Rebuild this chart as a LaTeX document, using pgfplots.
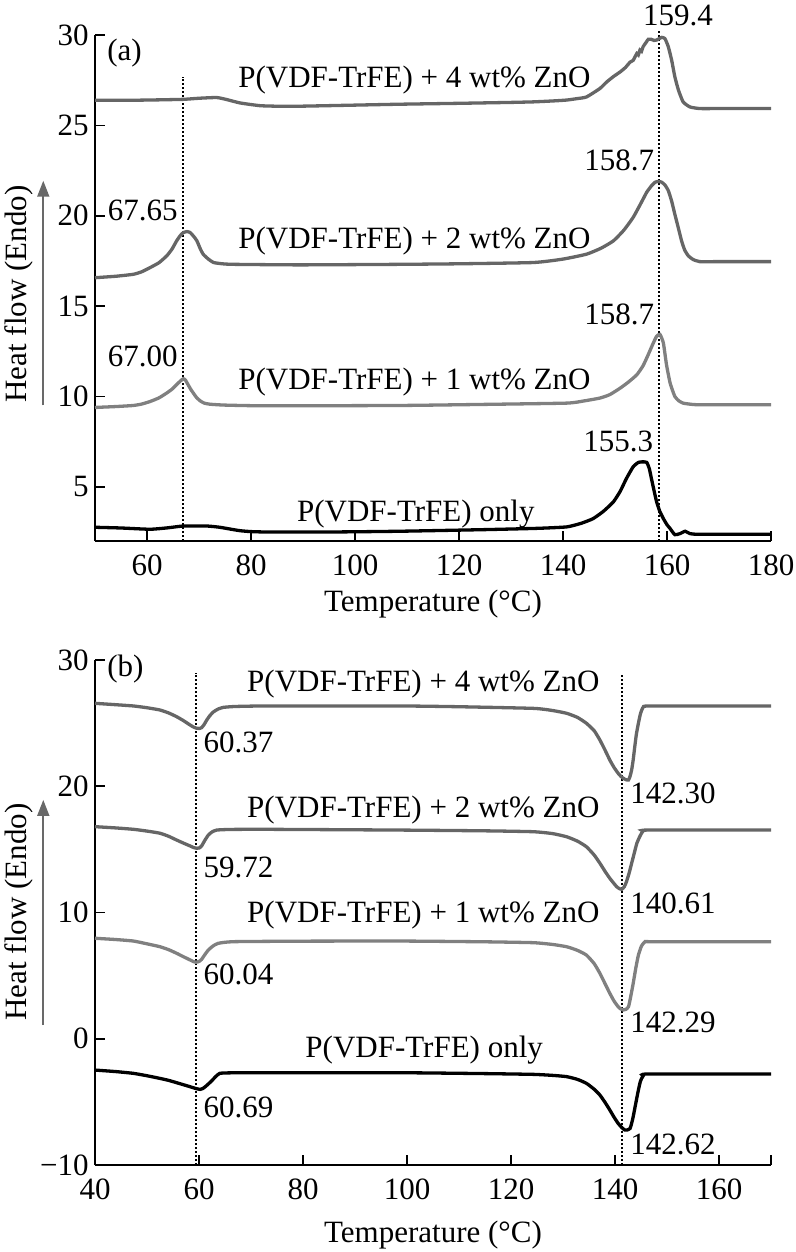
\documentclass[border=0pt]{standalone}
\usepackage{fontspec}
\setmainfont{LiberationSerif}[Extension=.ttf, UprightFont=*-Regular, BoldFont=*-Bold, ItalicFont=*-Italic, BoldItalicFont=*-BoldItalic]
\usepackage{pgfplots}
\pgfplotsset{compat=1.18}
\usetikzlibrary{arrows.meta}
\definecolor{dgray}{RGB}{102,102,102}
\definecolor{lgray}{RGB}{128,128,128}
\definecolor{agray}{RGB}{105,105,105}
\newcommand{\fs}{\fontsize{15.5}{18}\selectfont}
\tikzset{
  lab/.style={anchor=base west, inner sep=0pt, font=\fs},
  labc/.style={anchor=base, inner sep=0pt, font=\fs},
  vdot/.style={black, line width=1pt, dash pattern=on 1pt off 1pt},
}
\pgfplotsset{
  dsc/.style={
    scale only axis, width=338pt,
    axis lines*=left, clip=false,
    axis line style={line width=0.8pt, black},
    tick style={line width=0.8pt, black},
    major tick length=5pt,
    tick align=inside,
    yticklabel style={inner sep=0pt, xshift=-3pt},
    xticklabel style={inner sep=0pt, yshift=-6.5pt},
    /pgf/number format/assume math mode=true,
    every tick label/.append style={font=\fs},
    every axis label/.append style={font=\fs},
  },
  crv/.style={line width=1.65pt, smooth, tension=0.3, no markers},
}
\begin{document}
\fs
\begin{tikzpicture}
\useasboundingbox (0,0) rectangle (398pt,-626pt);
% ---------------- panel (a)
\begin{axis}[dsc, at={(47.5pt,-270.5pt)}, anchor=south west, height=253pt,
  xmin=50, xmax=180, ymin=2, ymax=30,
  xtick={60,80,100,120,140,160,180},
  xticklabels={60,80,100,120,140,160,180},
  ytick={5,10,15,20,25,30},
  yticklabels={5,10,15,20,25,30},
  xlabel={Temperature (°C)},
  xlabel style={at={(axis description cs:0.5,0)}, anchor=base, inner sep=0pt, yshift=-35pt},
]
\addplot[vdot] coordinates {(67,2) (67,27.7)};
\addplot[vdot] coordinates {(158.4,2) (158.4,30.3)};
\addplot[crv, dgray] coordinates {(50,26.39) (54,26.39) (57.4,26.39) (62,26.41) (67,26.44) (70,26.5) (73.4,26.54) (75.3,26.43) (77.9,26.24) (81.7,26.09) (85,26.06) (89.4,26.06) (100,26.12) (108.6,26.17) (120,26.22) (130,26.27) (134.3,26.3) (138,26.35) (140.7,26.4) (142.7,26.48) (144.5,26.57) (147.1,27.04) (148.4,27.4) (149.7,27.7) (151,27.96) (152,28.2) (152.9,28.5) (153.5,28.6) (154.2,28.98) (154.5,28.9) (154.8,29.17) (155.1,29.1) (155.4,29.35) (156,29.6) (156.4,29.76) (157,29.76) (157.5,29.7) (158,29.72) (158.5,29.8) (159,29.87) (159.6,29.8) (160.25,29.35) (160.9,28.6) (161.5,27.7) (162.2,26.95) (163.1,26.3) (164.4,26.02) (166.3,25.93) (170,25.93) (175,25.93) (180,25.93)};
\addplot[crv, dgray] coordinates {(50,16.57) (54,16.65) (57.4,16.76) (59,16.9) (60.6,17.13) (62.3,17.4) (63.8,17.78) (64.8,18.15) (65.7,18.61) (66.4,18.9) (67,19.07) (67.7,19.12) (68.3,19.07) (69,18.85) (69.6,18.61) (70.2,18.2) (70.8,17.87) (71.8,17.6) (72.8,17.41) (74.5,17.34) (76.6,17.31) (89.4,17.28) (108.6,17.31) (120,17.34) (134.3,17.41) (140,17.6) (144.5,17.87) (147.3,18.2) (149.7,18.61) (151.7,19.2) (153.5,19.91) (155,20.7) (156.1,21.3) (157,21.65) (157.7,21.85) (158.4,21.9) (159,21.85) (159.6,21.7) (160.25,21.39) (160.9,20.8) (161.5,20.09) (162.2,19.3) (162.8,18.61) (163.4,18.1) (164.1,17.78) (165,17.58) (166.3,17.46) (170,17.46) (180,17.46)};
\addplot[crv, lgray] coordinates {(50,9.39) (54,9.44) (57.4,9.5) (59,9.58) (60.6,9.72) (62.3,9.92) (63.8,10.19) (64.8,10.4) (65.7,10.65) (66.4,10.85) (67,10.98) (67.4,10.9) (67.9,10.65) (68.4,10.4) (68.9,10.19) (69.5,9.95) (70.2,9.76) (71,9.63) (72.1,9.57) (75,9.52) (83,9.48) (108.6,9.5) (125,9.56) (140.7,9.63) (144,9.75) (147.1,9.91) (149,10.1) (151,10.46) (152.6,10.8) (154.2,11.2) (155.4,11.7) (156.4,12.32) (157.2,12.85) (158,13.33) (158.65,13.43) (159.3,12.96) (159.9,11.76) (160.6,10.74) (161.5,10.0) (162.3,9.75) (163.1,9.63) (164.5,9.57) (166.3,9.54) (180,9.54)};
\addplot[crv, black] coordinates {(50,2.76) (55,2.72) (60.6,2.65) (64,2.73) (67,2.83) (71.5,2.83) (74,2.76) (76,2.66) (77.9,2.57) (80,2.52) (83,2.5) (95.8,2.5) (108.6,2.54) (125,2.63) (135,2.7) (140.7,2.78) (143.5,2.98) (145.8,3.24) (147.8,3.65) (149.7,4.17) (151,4.75) (152.2,5.46) (153.5,6.11) (154.5,6.35) (155.3,6.38) (156.1,6.35) (156.6,6.0) (157,5.46) (157.5,4.8) (158,4.17) (158.6,3.65) (159.3,3.24) (160,2.9) (160.6,2.69) (161.5,2.35) (162.5,2.41) (163.5,2.54) (164.4,2.41) (166.3,2.37) (180,2.37)};
\node[lab] at (axis cs:52.3,28.6) {(a)};
\node[lab] at (axis cs:77.5,27.11) {P(VDF-TrFE) + 4 wt\% ZnO};
\node[lab] at (axis cs:77.5,18.17) {P(VDF-TrFE) + 2 wt\% ZnO};
\node[lab] at (axis cs:77.5,10.39) {P(VDF-TrFE) + 1 wt\% ZnO};
\node[lab] at (axis cs:88.8,3.06) {P(VDF-TrFE) only};
\node[labc] at (axis cs:162.1,30.5) {159.4};
\node[labc] at (axis cs:150.8,22.5) {158.7};
\node[labc] at (axis cs:150.8,14.0) {158.7};
\node[labc] at (axis cs:150.6,6.94) {155.3};
\node[labc] at (axis cs:59.2,19.72) {67.65};
\node[labc] at (axis cs:59.2,11.67) {67.00};
\node[anchor=base, inner sep=0pt, rotate=90, font=\fs] at (rel axis cs:-0.1006,0.488) {Heat flow (Endo)};
\draw[agray, line width=0.8pt, -{Triangle[length=8pt,width=6pt]}] (rel axis cs:-0.0765,0.268) -- (rel axis cs:-0.0765,0.712);
\end{axis}
% ---------------- panel (b)
\begin{axis}[dsc, at={(47.5pt,-582.5pt)}, anchor=south west, height=252.5pt,
  xmin=40, xmax=170, ymin=-10, ymax=30,
  xtick={40,60,80,100,120,140,160,170},
  xticklabels={40,60,80,100,120,140,160,{}},
  ytick={-10,0,10,20,30},
  yticklabels={−10,0,10,20,30},
  xlabel={Temperature (°C)},
  xlabel style={at={(axis description cs:0.5,0)}, anchor=base, inner sep=0pt, yshift=-38.5pt},
]
\addplot[vdot] coordinates {(59.4,-10) (59.4,29.0)};
\addplot[vdot] coordinates {(141.3,-10) (141.3,28.8)};
\addplot[crv, dgray] coordinates {(40,26.57) (44,26.46) (47.4,26.36) (50,26.22) (52.5,26.04) (54.2,25.8) (55.7,25.51) (57,25.2) (58.3,24.85) (59,24.68) (59.6,24.59) (60.1,24.58) (60.5,24.64) (61,24.9) (61.5,25.25) (62.1,25.6) (62.8,25.9) (63.7,26.12) (64.7,26.25) (67,26.32) (73,26.36) (98.7,26.36) (110,26.3) (124.3,26.17) (128,26.0) (130.7,25.78) (132.8,25.45) (134.5,24.99) (136,24.4) (137.1,23.66) (138.1,22.85) (139,22.08) (139.8,21.5) (140.6,21.03) (141.1,20.8) (141.6,20.63) (142.1,20.52) (142.6,20.5) (142.9,20.8) (143.2,21.29) (143.5,22.1) (143.8,23.13) (144.1,24.1) (144.5,24.99) (144.9,25.75) (145.4,26.25) (146.4,26.36) (160,26.36) (170,26.36)};
\addplot[crv, dgray] coordinates {(40,16.8) (44,16.7) (47.4,16.59) (50,16.45) (52.5,16.28) (54.2,16.03) (55.7,15.74) (57,15.5) (58.3,15.27) (59,15.14) (59.6,15.09) (60.1,15.12) (60.5,15.27) (61.1,15.7) (61.8,16.14) (62.5,16.38) (63.4,16.53) (66,16.58) (73,16.59) (98.7,16.53) (115,16.47) (124.3,16.4) (128,16.25) (130.7,16.0) (132.8,15.65) (134.5,15.21) (136,14.55) (137.1,13.9) (138.1,13.25) (139,12.71) (139.7,12.35) (140.3,12.05) (140.8,11.9) (141.3,11.84) (141.8,12.05) (142.2,12.44) (142.7,13.1) (143.2,13.9) (143.7,14.7) (144.2,15.48) (144.8,16.05) (145.4,16.45) (146.4,16.53) (170,16.53)};
\addplot[crv, lgray] coordinates {(40,7.96) (44,7.86) (47.4,7.74) (50,7.52) (52.5,7.29) (54.2,7.05) (55.7,6.77) (57,6.5) (58.3,6.24) (59,6.1) (59.4,6.06) (60,6.12) (60.5,6.29) (61.1,6.65) (61.8,7.03) (62.7,7.35) (63.7,7.56) (66.6,7.69) (80,7.73) (98.7,7.74) (115,7.68) (124.3,7.61) (128,7.47) (130.7,7.29) (132.8,7.0) (134.5,6.63) (136,5.95) (137.1,5.18) (138.1,4.35) (139,3.6) (139.8,3.0) (140.6,2.54) (141.1,2.36) (141.6,2.28) (142.1,2.33) (142.6,2.54) (143,3.3) (143.5,4.39) (144,5.6) (144.5,6.63) (145.1,7.35) (145.8,7.69) (147.2,7.69) (170,7.69)};
\addplot[crv, black] coordinates {(40,-2.48) (44,-2.6) (47.4,-2.74) (50,-2.93) (52.5,-3.14) (54.2,-3.3) (55.7,-3.48) (57,-3.64) (58.3,-3.8) (59.3,-3.93) (60.2,-4.01) (60.7,-3.95) (61.2,-3.8) (61.8,-3.58) (62.4,-3.35) (63.2,-3.0) (64,-2.74) (66,-2.7) (73,-2.69) (98.7,-2.69) (115,-2.76) (124.3,-2.82) (128,-2.9) (130.7,-3.0) (132.8,-3.22) (134.5,-3.53) (136,-4.0) (137.1,-4.46) (138.1,-5.05) (139,-5.64) (139.8,-6.2) (140.6,-6.7) (141.3,-7.03) (141.9,-7.23) (142.4,-7.22) (142.9,-7.1) (143.2,-6.7) (143.5,-6.17) (144,-5.1) (144.5,-4.06) (144.9,-3.35) (145.4,-2.95) (146.4,-2.79) (170,-2.79)};
\node[lab] at (axis cs:42.3,28.73) {(b)};
\node[lab] at (axis cs:69.2,27.47) {P(VDF-TrFE) + 4 wt\% ZnO};
\node[lab] at (axis cs:69.2,17.56) {P(VDF-TrFE) + 2 wt\% ZnO};
\node[lab] at (axis cs:69.2,9.17) {P(VDF-TrFE) + 1 wt\% ZnO};
\node[lab] at (axis cs:80.4,-1.45) {P(VDF-TrFE) only};
\node[lab] at (axis cs:60.8,22.71) {60.37};
\node[lab] at (axis cs:60.8,12.81) {59.72};
\node[lab] at (axis cs:60.8,4.26) {60.04};
\node[lab] at (axis cs:60.8,-6.2) {60.69};
\node[lab] at (axis cs:142.9,18.67) {142.30};
\node[lab] at (axis cs:142.9,9.96) {140.61};
\node[lab] at (axis cs:142.9,0.46) {142.29};
\node[lab] at (axis cs:142.9,-9.2) {142.62};
\node[anchor=base, inner sep=0pt, rotate=90, font=\fs] at (rel axis cs:-0.1006,0.501) {Heat flow (Endo)};
\draw[agray, line width=0.8pt, -{Triangle[length=8pt,width=6pt]}] (rel axis cs:-0.0765,0.277) -- (rel axis cs:-0.0765,0.723);
\end{axis}
\end{tikzpicture}
\end{document}
